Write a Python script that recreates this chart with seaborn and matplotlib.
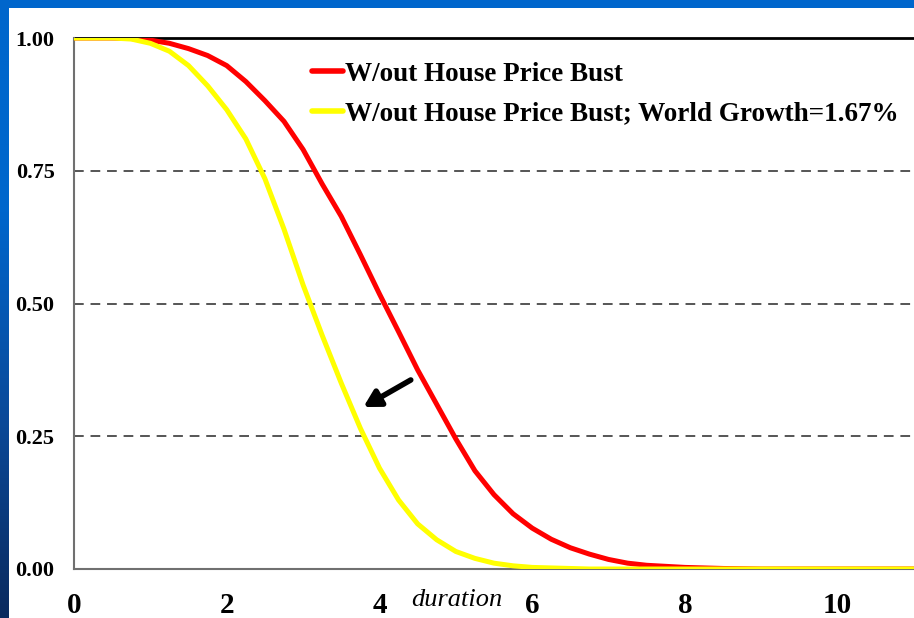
import numpy as np
import pandas as pd
import matplotlib
matplotlib.use("Agg")
import matplotlib.pyplot as plt
import matplotlib.patches as mpatches
from matplotlib.colors import LinearSegmentedColormap
import seaborn as sns

# ---- data ----
duration = [0, 0.5, 0.75, 1.0, 1.25, 1.5, 1.75, 2.0, 2.25, 2.5, 2.75, 3.0, 3.25,
            3.5, 3.75, 4.0, 4.25, 4.5, 4.75, 5.0, 5.25, 5.5, 5.75, 6.0, 6.25,
            6.5, 6.75, 7.0, 7.25, 7.5, 7.75, 8.0, 8.5, 9.0, 10.0, 11.0]
no_bust = [1.0, 1.0, 0.999, 0.996, 0.99, 0.98, 0.967, 0.948, 0.918, 0.882, 0.843,
           0.79, 0.725, 0.664, 0.592, 0.518, 0.447, 0.375, 0.31, 0.245, 0.185,
           0.14, 0.104, 0.077, 0.056, 0.04, 0.028, 0.018, 0.011, 0.007, 0.005,
           0.003, 0.001, 0.0, 0.0, 0.0]
world_growth = [1.0, 1.0, 0.998, 0.99, 0.975, 0.948, 0.91, 0.865, 0.81, 0.735,
                0.64, 0.535, 0.44, 0.35, 0.265, 0.19, 0.13, 0.085, 0.055, 0.033,
                0.02, 0.011, 0.006, 0.003, 0.002, 0.001, 0.0, 0.0, 0.0, 0.0, 0.0,
                0.0, 0.0, 0.0, 0.0, 0.0]
series_names = ["W/out House Price Bust",
                "W/out House Price Bust; World Growth=1.67%"]
series_colors = ["#FF0000", "#FFFF00"]
x_ticks = [0, 2, 4, 6, 8, 10]
y_ticks = [0.0, 0.25, 0.5, 0.75, 1.0]
y_tick_labels = ["0.00", "0.25", "0.50", "0.75", "1.00"]

df = pd.DataFrame({
    "duration": duration * 2,
    "value": no_bust + world_growth,
    "series": [series_names[0]] * len(duration) + [series_names[1]] * len(duration),
})

sns.set_theme(style="white")
plt.rcParams["font.family"] = ["Liberation Serif", "DejaVu Serif"]
plt.rcParams["font.weight"] = "bold"
plt.rcParams["text.color"] = "black"
plt.rcParams["axes.labelcolor"] = "black"

W, H = 914, 618
fig = plt.figure(figsize=(W / 100, H / 100), dpi=100)
fig.patch.set_facecolor("#0066CC")

# white slide area (drawn beneath the axes)
fig.patches.append(mpatches.Rectangle((9 / W, 0), 1 - 9 / W, 1 - 8 / H,
                                      transform=fig.transFigure,
                                      facecolor="white", edgecolor="none", zorder=-5))

# left blue strip with darker gradient toward the bottom
strip = fig.add_axes([0, 0, 9 / W, 1 - 8 / H])
strip.set_zorder(-1)
grad = np.linspace(0, 1, 256).reshape(-1, 1)
cmap = LinearSegmentedColormap.from_list("bg", ["#0A2A5E", "#0A4A9A", "#0066CC", "#0066CC"])
strip.imshow(grad, aspect="auto", cmap=cmap, origin="lower", extent=[0, 1, 0, 1])
strip.set_axis_off()

left = 74 / W
bottom = (H - 569) / H
top = (H - 38) / H
ax = fig.add_axes([left, bottom, 1 - left, top - bottom])
ax.set_facecolor("none")

sns.lineplot(data=df, x="duration", y="value", hue="series",
             palette=dict(zip(series_names, series_colors)),
             linewidth=3.6, ax=ax, legend=True, zorder=3)

ax.set_xlim(0, 11.0)
ax.set_ylim(0, 1.0)
ax.set_xticks(x_ticks)
ax.set_xticklabels([str(t) for t in x_ticks], fontsize=21, fontweight="bold")
ax.set_yticks(y_ticks)
ax.set_yticklabels(y_tick_labels, fontsize=16, fontweight="bold")
ax.tick_params(axis="both", which="both", direction="out", length=5, width=1,
               color="#808080", labelcolor="black")
ax.tick_params(axis="y", pad=9)
ax.tick_params(axis="x", pad=11.5)

for yv in [0.25, 0.5, 0.75]:
    ax.axhline(yv, color="#555555", linestyle=(0, (5, 3.5)), linewidth=1.4, zorder=1)
ax.axhline(1.0, color="black", linewidth=2.0, zorder=2, clip_on=False)

for side in ["top", "right"]:
    ax.spines[side].set_visible(False)
for side in ["left", "bottom"]:
    ax.spines[side].set_color("#707070")
    ax.spines[side].set_linewidth(1.5)

ax.set_ylabel("")
ax.set_xlabel("duration", fontsize=19, fontstyle="italic", fontweight="normal",
              color="black")
ax.xaxis.set_label_coords(0.456, -0.069)
ax.xaxis.label.set_verticalalignment("baseline")

leg = ax.legend(loc="upper left", bbox_to_anchor=(0.283, 0.955), frameon=False,
                prop={"family": "Liberation Serif", "weight": "bold", "size": 19.5},
                handlelength=1.15, handletextpad=0.08, labelspacing=0.54,
                borderaxespad=0, borderpad=0)
for line in leg.get_lines():
    line.set_linewidth(4)
for t in leg.get_texts():
    t.set_color("black")

ax.annotate("", xy=(3.79, 0.305), xytext=(4.41, 0.356),
            arrowprops=dict(arrowstyle="-|>,head_length=0.8,head_width=0.45",
                            color="black", lw=4, shrinkA=0, shrinkB=0),
            zorder=5)

fig.savefig("out.png", dpi=100, facecolor=fig.get_facecolor())
